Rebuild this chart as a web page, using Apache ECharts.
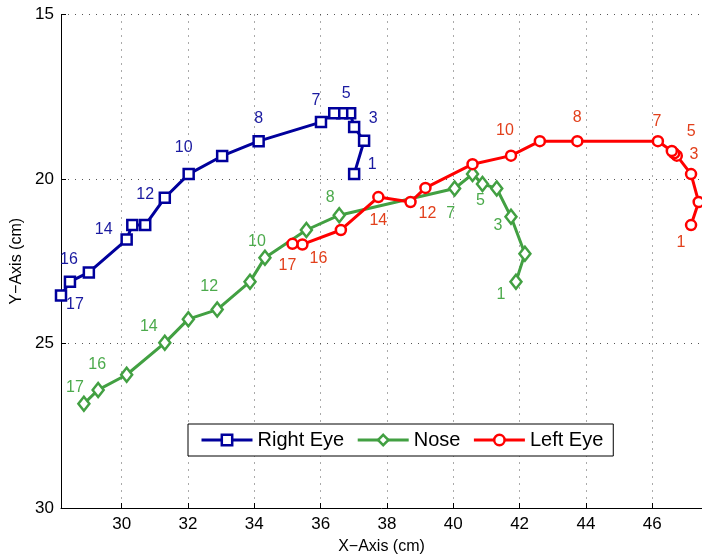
<!DOCTYPE html>
<html>
<head>
<meta charset="utf-8">
<script src="https://cdn.jsdelivr.net/npm/echarts@6/dist/echarts.min.js"></script>
<style>
html,body{margin:0;padding:0;background:#fff;}
#chart{width:702px;height:560px;}
</style>
</head>
<body>
<div id="chart"></div>
<script>
// ---- data ----
const pointNumbers = [1,2,3,4,5,6,7,8,9,10,11,12,13,14,15,16,17];
const labeledNumbers = [1,3,5,7,8,10,12,14,16,17];

const rightEyeX = [37.01,37.31,37.01,36.89,36.65,36.41,36.01,34.13,33.03,32.02,31.30,30.71,30.32,30.15,29.01,28.44,28.17];
const rightEyeY = [19.85,18.84,18.42,18.00,18.00,18.00,18.27,18.85,19.30,19.85,20.57,21.40,21.40,21.84,22.84,23.12,23.54];

const noseX = [41.89,42.16,41.74,41.31,40.88,40.58,40.04,36.56,35.57,34.32,33.87,32.88,32.01,31.30,30.15,29.29,28.86];
const noseY = [23.12,22.27,21.15,20.29,20.15,19.85,20.29,21.10,21.55,22.39,23.12,23.97,24.26,24.98,25.95,26.41,26.83];

const leftEyeX = [47.17,47.40,47.17,46.74,46.66,46.59,46.17,43.74,42.61,41.74,40.58,39.16,38.71,37.74,36.61,35.45,35.15];
const leftEyeY = [21.40,20.70,19.85,19.29,19.22,19.15,18.85,18.85,18.85,19.29,19.55,20.27,20.70,20.55,21.55,21.99,21.97];

const xTicks = [30,32,34,36,38,40,42,44,46];
const yTicks = [15,20,25,30];

// ---- label placement (style: pixel offsets of number labels from their point) ----
const rightEyeLabelOffsets = {1:[18,-9],3:[19,-8],5:[4,-20],7:[-5,-21],8:[0,-23],10:[-5,-26],12:[0,-30],14:[-23,-10],16:[-1,-22],17:[14,9]};
const noseLabelOffsets = {1:[-15,13],3:[-13,9],5:[-2,17],7:[-4,25],8:[-9,-18],10:[-8,-16],12:[-8,-23],14:[-16,-16],16:[-1,-25],17:[-9,-16]};
const leftEyeLabelOffsets = {1:[-10,18],3:[3,-19],5:[17,-22],7:[-1,-20],8:[0,-24],10:[-6,-25],12:[2,26],14:[0,23],16:[16,14],17:[-5,22]};

const FONT = '"Liberation Sans", Arial, Helvetica, sans-serif';

function buildData(xs, ys, offsets, labelColor) {
  return xs.map((x, i) => {
    const n = pointNumbers[i];
    const item = { value: [x, ys[i]] };
    if (labeledNumbers.indexOf(n) >= 0) {
      item.label = {
        show: true, position: 'inside', formatter: String(n),
        offset: offsets[n], color: labelColor, fontSize: 16, fontFamily: FONT
      };
    }
    return item;
  });
}

function makeSeries(name, xs, ys, offsets, color, labelColor, symbol, symbolSize) {
  return {
    name: name, type: 'line',
    data: buildData(xs, ys, offsets, labelColor),
    lineStyle: { color: color, width: 3 },
    itemStyle: { color: '#fff', borderColor: color, borderWidth: 2.5 },
    symbol: symbol, symbolSize: symbolSize, showAllSymbol: true,
    label: { show: false },
    emphasis: { disabled: true },
    animation: false, clip: true
  };
}

const chart = echarts.init(document.getElementById('chart'), null, { renderer: 'canvas' });
const gridLine = { show: true, lineStyle: { color: '#555', width: 1, type: [1, 6] } };

chart.setOption({
  backgroundColor: '#fff',
  animation: false,
  textStyle: { fontFamily: FONT },
  grid: { left: 61, top: 14.5, width: 644, height: 499.5, containLabel: false },
  xAxis: {
    type: 'value', min: 28.17, max: 47.5,
    axisLine: { show: true, onZero: false, lineStyle: { color: '#000', width: 1 } },
    axisTick: { show: true, inside: true, length: 5, customValues: xTicks, lineStyle: { color: '#000' } },
    axisLabel: { customValues: xTicks, color: '#000', fontSize: 17, fontFamily: FONT, margin: 8 },
    splitLine: gridLine,
    name: 'X\u2212Axis (cm)', nameLocation: 'middle', nameGap: 31,
    nameTextStyle: { color: '#000', fontSize: 16, fontFamily: FONT }
  },
  yAxis: {
    type: 'value', inverse: true, min: 15, max: 30, interval: 5,
    axisLine: { show: true, onZero: false, lineStyle: { color: '#000', width: 1 } },
    axisTick: { show: true, inside: true, length: 5, lineStyle: { color: '#000' } },
    axisLabel: { color: '#000', fontSize: 17, fontFamily: FONT, margin: 7 },
    splitLine: gridLine,
    name: 'Y\u2212Axis (cm)', nameLocation: 'middle', nameGap: 35, nameRotate: 90,
    nameTextStyle: { color: '#000', fontSize: 16, fontFamily: FONT }
  },
  legend: {
    left: 188, top: 424,
    orient: 'horizontal',
    backgroundColor: '#fff', borderColor: '#000', borderWidth: 1, borderRadius: 0,
    padding: [6, 10, 6, 12],
    itemWidth: 51, itemHeight: 13, itemGap: 12,
    lineStyle: { width: 3 },
    itemStyle: { borderWidth: 2.5 },
    textStyle: { color: '#000', fontSize: 20, fontFamily: FONT },
    data: ['Right Eye', 'Nose', 'Left Eye'],
    selectedMode: false
  },
  series: [
    makeSeries('Right Eye', rightEyeX, rightEyeY, rightEyeLabelOffsets, '#00009c', '#1a1aa0', 'rect', 10),
    makeSeries('Nose', noseX, noseY, noseLabelOffsets, '#42a042', '#4caa4c', 'diamond', [11, 14]),
    makeSeries('Left Eye', leftEyeX, leftEyeY, leftEyeLabelOffsets, '#ff0000', '#e2401c', 'circle', 10)
  ]
});
</script>
</body>
</html>
